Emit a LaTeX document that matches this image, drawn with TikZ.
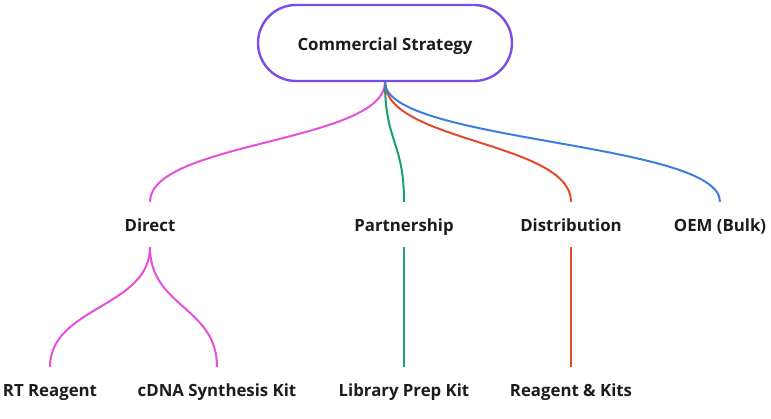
\documentclass[tikz,border=0pt]{standalone}
\usepackage{fontspec}
\setmainfont{Open Sans}
\definecolor{cpurple}{HTML}{7B4DE6}
\definecolor{cpink}{HTML}{E64FDB}
\definecolor{cgreen}{HTML}{1A9E7A}
\definecolor{cred}{HTML}{E24A2E}
\definecolor{cblue}{HTML}{3C7EE0}
\definecolor{ctext}{HTML}{1C1C1C}
\begin{document}
\begin{tikzpicture}[x=1pt,y=-1pt,
  lbl/.style={font=\fontsize{16.8}{20}\selectfont\bfseries, text=ctext, inner sep=0pt,
     text height=17pt, text depth=2pt, minimum height=45pt},
  leaf/.style={lbl, minimum height=44pt},
  rootbox/.style={draw=cpurple, line width=2.4pt, rounded corners=38pt,
     minimum width=254pt, minimum height=76pt, inner sep=0pt,
     font=\fontsize{16.8}{20}\selectfont\bfseries, text=ctext, text height=17pt, text depth=2pt},
  link/.style={line width=2pt},
]
\useasboundingbox (0,0) rectangle (771,419);
\node[rootbox] (root) at (385,43) {Commercial Strategy};
\node[lbl] (direct) at (150,224.5) {Direct};
\node[lbl] (partner) at (404,224.5) {Partnership};
\node[lbl] (distrib) at (571,224.5) {Distribution};
\node[lbl] (oem) at (720,224.5) {OEM (Bulk)};
\node[leaf] (rt) at (50,389) {RT Reagent};
\node[leaf] (cdna) at (217,389) {cDNA Synthesis Kit};
\node[leaf] (lib) at (404,389) {Library Prep Kit};
\node[leaf] (rk) at (571,389) {Reagent \& Kits};
\draw[link, cpink] (root.south) .. controls +(0,60) and +(0,-60) .. (direct.north);
\draw[link, cgreen] (root.south) .. controls +(0,60) and +(0,-60) .. (partner.north);
\draw[link, cred] (root.south) .. controls +(0,60) and +(0,-60) .. (distrib.north);
\draw[link, cblue] (root.south) .. controls +(0,60) and +(0,-60) .. (oem.north);
\draw[link, cpink] (direct.south) .. controls +(0,60) and +(0,-60) .. (rt.north);
\draw[link, cpink] (direct.south) .. controls +(0,60) and +(0,-60) .. (cdna.north);
\draw[link, cgreen] (partner.south) -- (lib.north);
\draw[link, cred] (distrib.south) -- (rk.north);
\end{tikzpicture}
\end{document}
